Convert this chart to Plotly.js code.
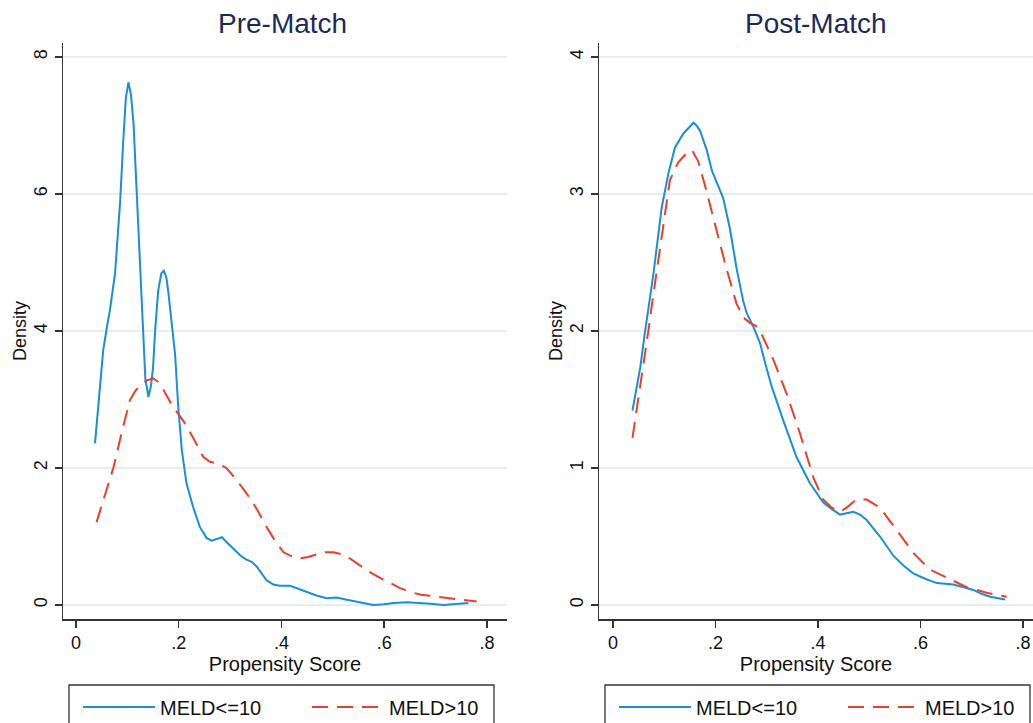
<!DOCTYPE html>
<html>
<head>
<meta charset="utf-8">
<script src="https://cdn.plot.ly/plotly-3.0.1.min.js"></script>
<style>html,body{margin:0;padding:0;background:#fff;}#chart{width:1033px;height:723px;}</style>
</head>
<body>
<div id="chart"></div>
<script>
// ---------- DATA ----------
var panelTitles = ["Pre-Match", "Post-Match"];
var seriesNames = ["MELD<=10", "MELD>10"];
var xTitle = "Propensity Score";
var yTitle = "Density";
var xTickVals = [0, 0.2, 0.4, 0.6, 0.8];
var xTickText = ["0", ".2", ".4", ".6", ".8"];
var preTickVals = [0, 2, 4, 6, 8];
var postTickVals = [0, 1, 2, 3, 4];

var preLowX = [0.037,0.047,0.053,0.060,0.066,0.076,0.086,0.092,0.097,0.102,0.107,0.112,0.118,0.125,0.130,0.135,0.141,0.146,0.150,0.154,0.160,0.166,0.171,0.176,0.180,0.186,0.193,0.199,0.206,0.215,0.228,0.241,0.254,0.264,0.274,0.284,0.293,0.306,0.319,0.330,0.342,0.352,0.362,0.371,0.384,0.397,0.417,0.432,0.449,0.468,0.488,0.507,0.525,0.540,0.560,0.579,0.600,0.618,0.644,0.670,0.690,0.715,0.740,0.764];
var preLowY = [2.36,3.24,3.72,4.05,4.30,4.84,5.90,6.78,7.40,7.63,7.45,7.03,6.05,4.84,3.96,3.30,3.04,3.20,3.47,4.00,4.59,4.84,4.88,4.78,4.55,4.15,3.65,2.89,2.26,1.78,1.43,1.14,0.98,0.94,0.96,0.99,0.92,0.83,0.73,0.67,0.63,0.56,0.45,0.36,0.30,0.28,0.28,0.24,0.19,0.14,0.10,0.11,0.08,0.06,0.03,0.00,0.01,0.03,0.04,0.03,0.02,0.00,0.01,0.03];

var preHighX = [0.040,0.056,0.073,0.090,0.105,0.115,0.125,0.138,0.150,0.163,0.176,0.189,0.202,0.215,0.231,0.248,0.261,0.274,0.293,0.312,0.332,0.352,0.371,0.388,0.404,0.420,0.436,0.452,0.468,0.485,0.501,0.517,0.533,0.552,0.572,0.591,0.611,0.630,0.650,0.672,0.695,0.715,0.734,0.757,0.780];
var preHighY = [1.21,1.60,2.01,2.55,2.99,3.12,3.21,3.28,3.31,3.24,3.06,2.89,2.76,2.62,2.40,2.16,2.09,2.07,2.00,1.83,1.63,1.40,1.14,0.93,0.77,0.71,0.68,0.70,0.74,0.77,0.77,0.74,0.68,0.58,0.48,0.40,0.32,0.25,0.19,0.15,0.13,0.11,0.09,0.07,0.05];

var postLowX = [0.038,0.053,0.062,0.072,0.079,0.087,0.095,0.108,0.121,0.137,0.148,0.157,0.163,0.170,0.183,0.193,0.204,0.215,0.228,0.241,0.254,0.261,0.274,0.287,0.298,0.310,0.332,0.358,0.384,0.410,0.427,0.443,0.456,0.469,0.482,0.495,0.508,0.521,0.547,0.566,0.586,0.610,0.632,0.664,0.684,0.703,0.720,0.736,0.765];
var postLowY = [1.42,1.73,1.98,2.22,2.42,2.66,2.90,3.15,3.34,3.44,3.48,3.52,3.50,3.46,3.32,3.17,3.07,2.97,2.75,2.46,2.22,2.13,2.03,1.91,1.75,1.59,1.35,1.08,0.89,0.75,0.70,0.66,0.67,0.68,0.66,0.62,0.56,0.50,0.36,0.29,0.23,0.19,0.16,0.15,0.13,0.11,0.08,0.06,0.04];

var postHighX = [0.038,0.053,0.069,0.077,0.085,0.098,0.111,0.127,0.144,0.154,0.166,0.179,0.199,0.221,0.241,0.254,0.267,0.278,0.287,0.300,0.313,0.339,0.365,0.391,0.410,0.427,0.443,0.459,0.475,0.495,0.521,0.553,0.586,0.618,0.651,0.690,0.729,0.768];
var postHighY = [1.22,1.59,2.00,2.22,2.42,2.75,3.10,3.23,3.30,3.32,3.24,3.07,2.78,2.46,2.20,2.10,2.06,2.04,2.00,1.90,1.79,1.54,1.25,0.93,0.77,0.71,0.68,0.72,0.77,0.77,0.71,0.55,0.38,0.26,0.20,0.13,0.09,0.06];

// ---------- STYLE ----------
var W = 1033, H = 723;
var blue = "#1a8fd6", red = "#ea3f2b";
var font = "Liberation Sans, Arial, Helvetica, sans-serif";
function px(x){ return x / W; }
function py(y){ return 1 - y / H; }

var blueLine = {color: blue, width: 2};
var redLine = {color: red, width: 2, dash: "16px,9px"};

var traces = [
  {x: preLowX, y: preLowY, type: "scatter", mode: "lines", name: seriesNames[0], line: blueLine, xaxis: "x", yaxis: "y", legend: "legend"},
  {x: preHighX, y: preHighY, type: "scatter", mode: "lines", name: seriesNames[1], line: redLine, xaxis: "x", yaxis: "y", legend: "legend"},
  {x: postLowX, y: postLowY, type: "scatter", mode: "lines", name: seriesNames[0], line: blueLine, xaxis: "x2", yaxis: "y2", legend: "legend2"},
  {x: postHighX, y: postHighY, type: "scatter", mode: "lines", name: seriesNames[1], line: redLine, xaxis: "x2", yaxis: "y2", legend: "legend2"}
];

var axisCommon = {
  showline: true, linecolor: "#333", linewidth: 1.5, mirror: false,
  ticks: "outside", ticklen: 7, tickwidth: 1.5, tickcolor: "#333",
  zeroline: false, automargin: false,
  tickfont: {family: font, size: 18, color: "#111"}
};
function xAxis(domain, range){
  return Object.assign({}, axisCommon, {
    domain: domain, range: range, showgrid: false,
    tickmode: "array", tickvals: xTickVals, ticktext: xTickText,
    title: {text: xTitle, font: {family: font, size: 20, color: "#111"}, standoff: 4}
  });
}
function yAxis(domain, range, vals){
  return Object.assign({}, axisCommon, {
    domain: domain, range: range, showgrid: true, gridcolor: "#e6eef0", gridwidth: 1.5,
    tickmode: "array", tickvals: vals, tickangle: -90
  });
}
var yDom = [py(619), py(43)];

function legendAt(x0){
  return {x: px(x0), xanchor: "left", y: py(707), yanchor: "middle", orientation: "h",
    font: {family: font, size: 20, color: "#111"}, bgcolor: "rgba(0,0,0,0)", borderwidth: 0,
    itemwidth: 72, entrywidth: 142, entrywidthmode: "pixels"};
}
function textAnn(text, x, y, size, color, angle){
  return {text: text, xref: "paper", yref: "paper", x: px(x), y: py(y), xanchor: "center", yanchor: "middle",
    showarrow: false, textangle: angle || 0, font: {family: font, size: size, color: color}};
}

var layout = {
  width: W, height: H,
  margin: {l: 0, r: 0, t: 0, b: 0, autoexpand: false},
  paper_bgcolor: "#fff", plot_bgcolor: "#fff",
  font: {family: font, color: "#111"},
  xaxis: xAxis([px(63), px(507)], [-0.0253, 0.839]),
  yaxis: yAxis(yDom, [-0.204, 8.204], preTickVals),
  xaxis2: xAxis([px(599), 1], [-0.0273, 0.8195]),
  yaxis2: Object.assign(yAxis(yDom, [-0.102, 4.102], postTickVals), {anchor: "x2"}),
  showlegend: true,
  legend: legendAt(78),
  legend2: legendAt(614),
  annotations: [
    textAnn(panelTitles[0], 282, 24, 28, "#1c2a59"),
    textAnn(panelTitles[1], 816, 24, 28, "#1c2a59"),
    textAnn(yTitle, 20, 331, 18, "#111", -90),
    textAnn(yTitle, 556, 331, 18, "#111", -90)
  ],
  shapes: [
    {type: "rect", xref: "paper", yref: "paper", x0: px(69), x1: px(494), y0: py(685), y1: -0.1, line: {color: "#333", width: 1.3}, fillcolor: "rgba(0,0,0,0)"},
    {type: "rect", xref: "paper", yref: "paper", x0: px(605), x1: px(1030), y0: py(685), y1: -0.1, line: {color: "#333", width: 1.3}, fillcolor: "rgba(0,0,0,0)"}
  ]
};
layout.xaxis2.anchor = "y2";
layout.xaxis.anchor = "y";
layout.yaxis.anchor = "x";

Plotly.newPlot("chart", traces, layout, {displayModeBar: false, staticPlot: true});
</script>
</body>
</html>
